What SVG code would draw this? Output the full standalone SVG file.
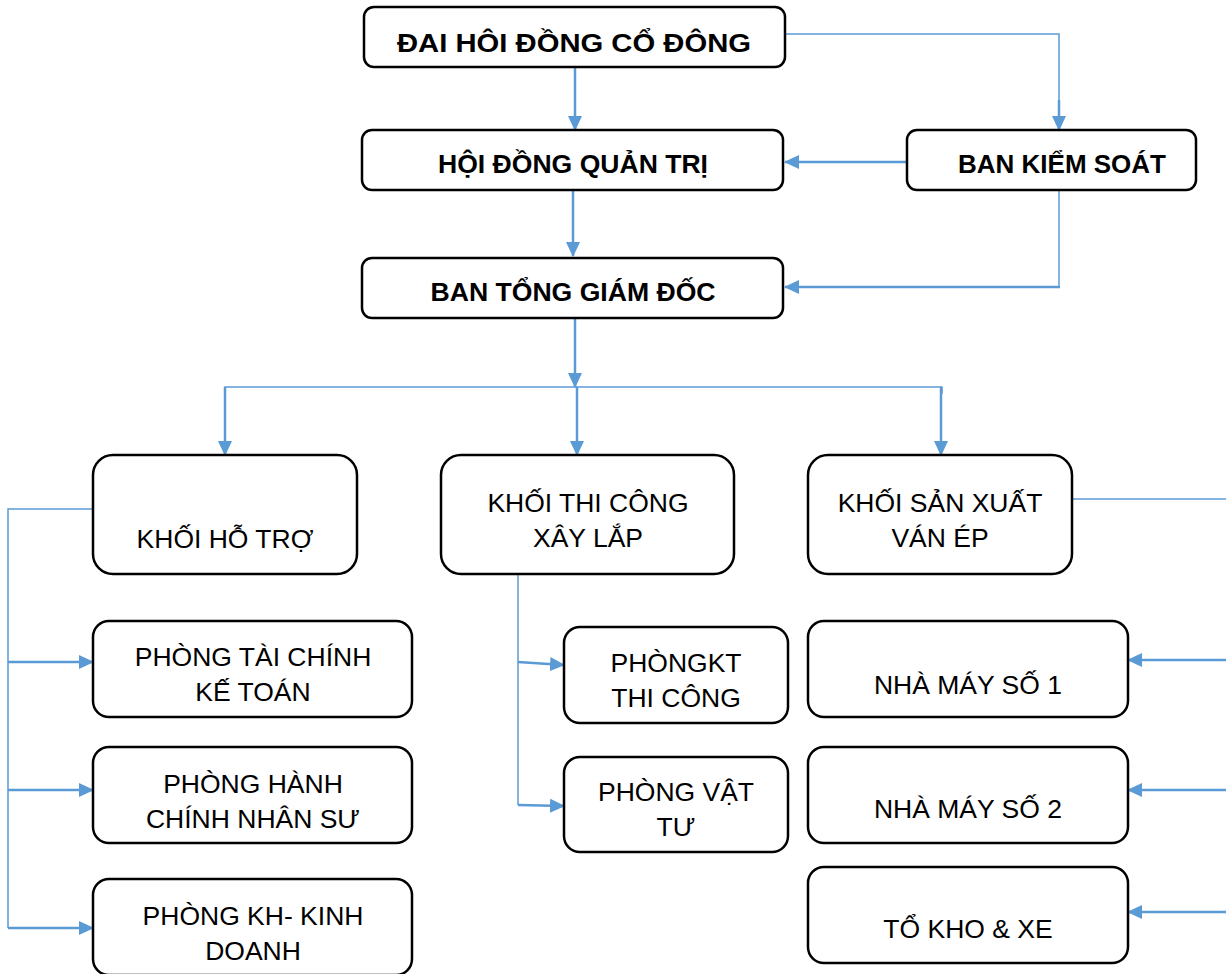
<svg xmlns="http://www.w3.org/2000/svg" width="1226" height="974" viewBox="0 0 1226 974">
<defs>
<style>
.box{fill:#fff;stroke:#000;stroke-width:2.5}
.t{font-family:"Liberation Sans",Arial,sans-serif;font-size:26.5px;fill:#000;text-anchor:middle}
.b{font-weight:bold;font-size:26px}
.c{fill:none;stroke:#5B9BD5;stroke-width:2.5}
.thin{fill:none;stroke:#5B9BD5;stroke-width:1.5}
</style>
<marker id="ah" markerUnits="userSpaceOnUse" markerWidth="15" markerHeight="14" refX="14" refY="7" orient="auto">
<path d="M0,0 L15,7 L0,14 z" fill="#5B9BD5"/>
</marker>
</defs>
<rect width="1226" height="974" fill="#fff"/>
<g id="connectors">
<line class="c" x1="575" y1="67" x2="575" y2="130" marker-end="url(#ah)"/>
<polyline class="thin" points="785,34 1059,34 1059,118"/>
<line class="c" x1="1059" y1="100" x2="1059" y2="130" marker-end="url(#ah)"/>
<line class="c" x1="907" y1="162" x2="785" y2="162" marker-end="url(#ah)"/>
<polyline class="thin" points="1059,190 1059,287"/>
<line class="c" x1="1060" y1="287" x2="785" y2="287" marker-end="url(#ah)"/>
<line class="c" x1="573" y1="190" x2="573" y2="256" marker-end="url(#ah)"/>
<line class="c" x1="575" y1="318" x2="575" y2="387" marker-end="url(#ah)"/>
<polyline class="thin" points="225,394 225,387 942,387 942,394"/>
<line class="c" x1="225" y1="387" x2="225" y2="455" marker-end="url(#ah)"/>
<line class="c" x1="577" y1="387" x2="577" y2="455" marker-end="url(#ah)"/>
<line class="c" x1="941" y1="387" x2="941" y2="455" marker-end="url(#ah)"/>
<polyline class="thin" points="93,509 8,509 8,928"/>
<line class="c" x1="8" y1="662" x2="93" y2="662" marker-end="url(#ah)"/>
<line class="c" x1="8" y1="790" x2="93" y2="790" marker-end="url(#ah)"/>
<line class="c" x1="8" y1="928" x2="93" y2="928" marker-end="url(#ah)"/>
<polyline class="thin" points="518,574 518,805"/>
<line class="c" x1="518" y1="662" x2="564" y2="665" marker-end="url(#ah)"/>
<line class="c" x1="518" y1="805" x2="564" y2="806" marker-end="url(#ah)"/>
<line class="thin" x1="1072" y1="499" x2="1226" y2="499"/>
<line class="c" x1="1226" y1="660" x2="1128" y2="660" marker-end="url(#ah)"/>
<line class="c" x1="1226" y1="790" x2="1128" y2="790" marker-end="url(#ah)"/>
<line class="c" x1="1226" y1="912" x2="1128" y2="912" marker-end="url(#ah)"/>
</g>
<g id="n-daihoi"><rect class="box" x="364" y="7" width="421" height="60" rx="10"/><text class="t b" x="574" y="52" font-size="27" textLength="354" lengthAdjust="spacingAndGlyphs">ĐAI HÔI ĐỒNG CỔ ĐÔNG</text></g>
<g id="n-hdqt"><rect class="box" x="362" y="130" width="421" height="60" rx="10"/><text class="t b" x="573" y="173" textLength="270" lengthAdjust="spacingAndGlyphs">HỘI ĐỒNG QUẢN TRỊ</text></g>
<g id="n-bks"><rect class="box" x="907" y="130" width="289" height="60" rx="10"/><text class="t b" x="1062" y="173">BAN KIỂM SOÁT</text></g>
<g id="n-btgd"><rect class="box" x="362" y="258" width="421" height="60" rx="10"/><text class="t b" x="573" y="301" textLength="285" lengthAdjust="spacingAndGlyphs">BAN TỔNG GIÁM ĐỐC</text></g>
<g id="n-khoihotro"><rect class="box" x="93" y="455" width="264" height="119" rx="20"/><text class="t" x="225" y="548">KHỐI HỖ TRỢ</text></g>
<g id="n-khoithicong"><rect class="box" x="441" y="455" width="293" height="119" rx="20"/><text class="t" x="588" y="512">KHỐI THI CÔNG</text><text class="t" x="588" y="547">XÂY LẮP</text></g>
<g id="n-khoisanxuat"><rect class="box" x="808" y="455" width="264" height="119" rx="20"/><text class="t" x="940" y="512">KHỐI SẢN XUẤT</text><text class="t" x="940" y="547">VÁN ÉP</text></g>
<g id="n-taichinh"><rect class="box" x="93" y="621" width="319" height="96" rx="16"/><text class="t" x="253" y="666">PHÒNG TÀI CHÍNH</text><text class="t" x="253" y="701">KẾ TOÁN</text></g>
<g id="n-hanhchinh"><rect class="box" x="93" y="747" width="319" height="96" rx="16"/><text class="t" x="253" y="793">PHÒNG HÀNH</text><text class="t" x="253" y="828">CHÍNH NHÂN SƯ</text></g>
<g id="n-kinhdoanh"><rect class="box" x="93" y="879" width="319" height="96" rx="16"/><text class="t" x="253" y="925">PHÒNG KH- KINH</text><text class="t" x="253" y="960">DOANH</text></g>
<g id="n-ktthicong"><rect class="box" x="564" y="627" width="224" height="96" rx="16"/><text class="t" x="676" y="672">PHÒNGKT</text><text class="t" x="676" y="707">THI CÔNG</text></g>
<g id="n-vattu"><rect class="box" x="564" y="757" width="224" height="95" rx="16"/><text class="t" x="676" y="801">PHÒNG VẬT</text><text class="t" x="676" y="836">TƯ</text></g>
<g id="n-nhamay1"><rect class="box" x="808" y="621" width="320" height="96" rx="16"/><text class="t" x="968" y="694">NHÀ MÁY SỐ 1</text></g>
<g id="n-nhamay2"><rect class="box" x="808" y="747" width="320" height="96" rx="16"/><text class="t" x="968" y="818">NHÀ MÁY SỐ 2</text></g>
<g id="n-khoxe"><rect class="box" x="808" y="867" width="320" height="96" rx="16"/><text class="t" x="968" y="938">TỔ KHO &amp; XE</text></g>
</svg>
